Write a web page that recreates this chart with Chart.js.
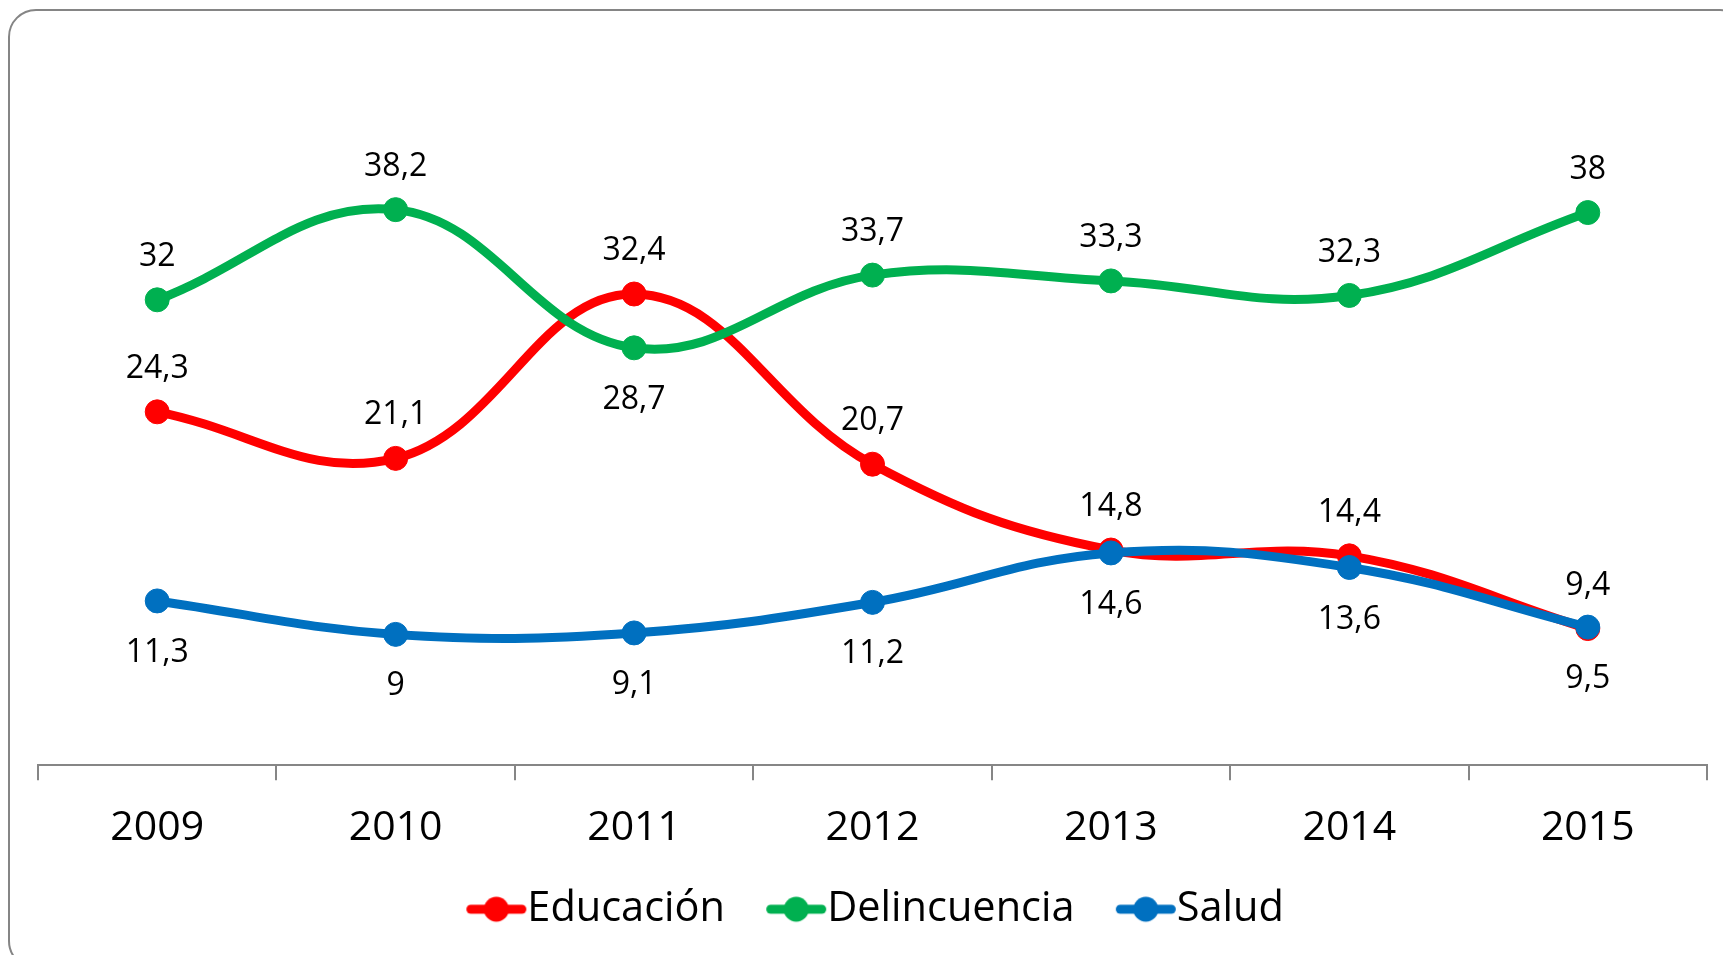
<!DOCTYPE html>
<html>
<head>
<meta charset="utf-8">
<script src="https://cdn.jsdelivr.net/npm/chart.js@4"></script>
<style>
  html, body { margin: 0; padding: 0; background: #ffffff; overflow: hidden; }
  #wrap { position: relative; width: 1723px; height: 955px; }
  #frame { position: absolute; left: 8px; top: 9px; width: 1740px; height: 960px;
           border: 2px solid #858585; border-radius: 28px; box-sizing: border-box; }
  #c { position: absolute; left: 0; top: 0; }
</style>
</head>
<body>
<div id="wrap">
  <div id="frame"></div>
  <canvas id="c" width="1723" height="955"></canvas>
</div>
<script>
// ---- data ----
const years = ['2009', '2010', '2011', '2012', '2013', '2014', '2015'];
const educacion = [24.3, 21.1, 32.4, 20.7, 14.8, 14.4, 9.4];
const delincuencia = [32, 38.2, 28.7, 33.7, 33.3, 32.3, 38];
const salud = [11.3, 9, 9.1, 11.2, 14.6, 13.6, 9.5];
const seriesNames = ['Educación', 'Delincuencia', 'Salud'];

// ---- styles ----
const colors = ['#FF0000', '#00B050', '#0070C0'];
const labelSide = [
  ['up', 'up', 'up', 'up', 'up', 'up', 'up'],
  ['up', 'up', 'down', 'up', 'up', 'up', 'up'],
  ['down', 'down', 'down', 'down', 'down', 'down', 'down']
];
const FONT = '"Open Sans", "Liberation Sans", sans-serif';
const LEG_FONT = 41.5;
const LEG_BOX = 68.5;
const LEG_SHIFT = -11.5;

function legendImage(color) {
  // image centred at x + B/2, right edge must sit at x + B + fontSize/2
  const right = LEG_BOX + LEG_FONT / 2;
  const W = Math.round(2 * (right - LEG_BOX / 2)), H = 30;
  const cv = document.createElement('canvas');
  cv.width = W; cv.height = H;
  const g = cv.getContext('2d');
  const x1 = W - 61, x2 = W - 1;
  g.strokeStyle = color; g.lineWidth = 9; g.lineCap = 'round';
  g.beginPath(); g.moveTo(x1 + 4.5, H / 2); g.lineTo(x2 - 4.5, H / 2); g.stroke();
  g.fillStyle = color;
  g.beginPath(); g.arc((x1 + x2) / 2, H / 2, 12.5, 0, Math.PI * 2); g.fill();
  return cv;
}
const legendImgs = colors.map(legendImage);

const valueLabels = {
  id: 'valueLabels',
  afterDatasetsDraw(chart) {
    const ctx = chart.ctx;
    ctx.save();
    ctx.font = '32px ' + FONT;
    ctx.fillStyle = '#000000';
    ctx.textAlign = 'center';
    ctx.textBaseline = 'middle';
    chart.data.datasets.forEach((ds, di) => {
      const meta = chart.getDatasetMeta(di);
      meta.data.forEach((pt, i) => {
        const v = ds.data[i];
        const txt = String(v).replace('.', ',');
        const dy = labelSide[di][i] === 'up' ? -43 : 52;
        ctx.fillText(txt, pt.x, pt.y + dy);
      });
    });
    ctx.restore();
  }
};

const legendShift = {
  id: 'legendShift',
  afterLayout(chart) {
    if (chart.legend) {
      chart.legend.left += LEG_SHIFT;
      chart.legend.right += LEG_SHIFT;
    }
  }
};

const seriesData = [educacion, delincuencia, salud];
const datasets = seriesData.map((d, i) => ({
  label: seriesNames[i],
  data: d,
  borderColor: colors[i],
  backgroundColor: colors[i],
  pointBackgroundColor: colors[i],
  pointBorderColor: colors[i],
  borderWidth: 9,
  pointRadius: 12,
  pointBorderWidth: 1,
  tension: 0.4,
  fill: false,
  order: 3 - i
}));

new Chart(document.getElementById('c'), {
  type: 'line',
  data: { labels: years, datasets },
  options: {
    responsive: false,
    devicePixelRatio: 1,
    animation: false,
    layout: { padding: { left: 38, right: 16, top: 38, bottom: 15 } },
    scales: {
      x: {
        type: 'category',
        offset: true,
        grid: { offset: true, drawOnChartArea: false, drawTicks: true, tickLength: 15, color: '#868686', lineWidth: 2 },
        border: { display: true, color: '#868686', width: 2 },
        ticks: { color: '#000000', font: { family: FONT, size: 41 }, padding: 23, maxRotation: 0 }
      },
      y: { display: false, min: 0, max: 50 }
    },
    plugins: {
      legend: {
        position: 'bottom',
        labels: {
          usePointStyle: true,
          pointStyleWidth: LEG_BOX,
          padding: 13,
          color: '#000000',
          font: { family: FONT, size: LEG_FONT },
          sort: (a, b) => a.datasetIndex - b.datasetIndex,
          generateLabels(chart) {
            const items = Chart.defaults.plugins.legend.labels.generateLabels(chart);
            items.forEach(it => { it.pointStyle = legendImgs[it.datasetIndex]; });
            return items;
          }
        }
      },
      tooltip: { enabled: false }
    }
  },
  plugins: [valueLabels, legendShift]
});
</script>
</body>
</html>
